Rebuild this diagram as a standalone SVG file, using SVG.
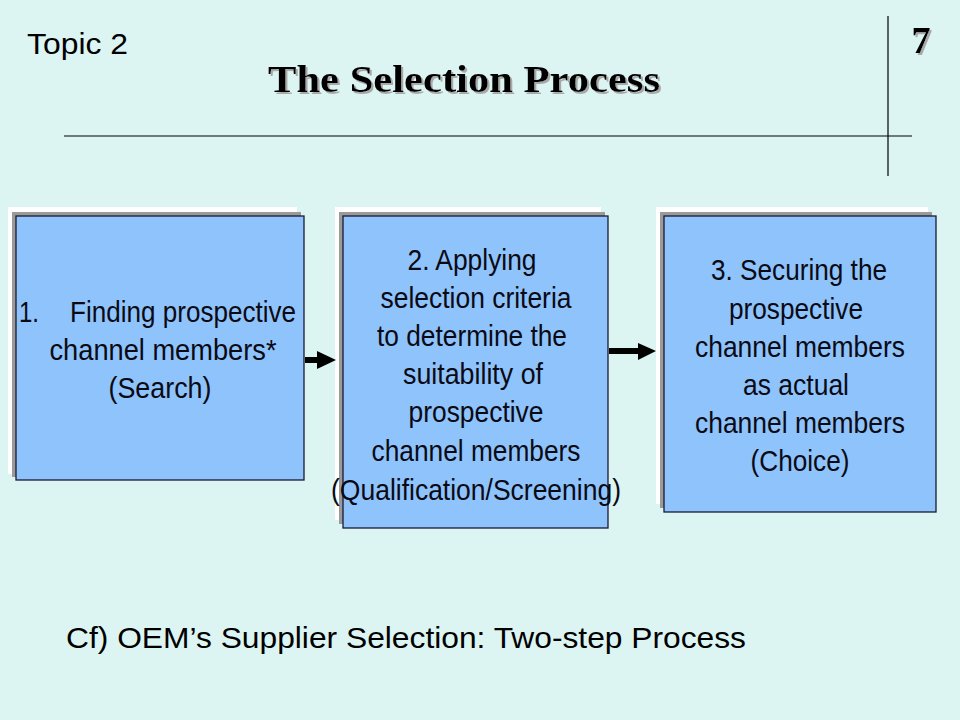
<svg xmlns="http://www.w3.org/2000/svg" width="960" height="720" viewBox="0 0 960 720">
  <defs>
    <style>
      .bg { fill: #dcf5f2; }
      .rule { stroke: #000; stroke-width: 1.2; fill: none; }
      .hl { fill: #ffffff; }
      .sh { fill: #9a9a9a; }
      .box { fill: #8fc3fb; stroke: #1a1a33; stroke-width: 1.3; }
      .t { font-family: "Liberation Sans", Arial, sans-serif; font-size: 29px; fill: #0a0a14; text-anchor: middle; }
      .title { font-family: "Liberation Serif", "Times New Roman", serif; font-weight: bold; font-size: 38px; text-anchor: middle; fill: #000; }
      .plain { font-family: "Liberation Sans", Arial, sans-serif; fill: #000; }
      .conn { stroke: #000; stroke-width: 6; fill: none; }
      .head { fill: #000; }
    </style>
    <filter id="shadow" x="-5%" y="-20%" width="110%" height="140%">
      <feDropShadow dx="2" dy="2" stdDeviation="0.3" flood-color="#a8a8a8" flood-opacity="1"/>
    </filter>
  </defs>
  <rect class="bg" x="0" y="0" width="960" height="720"/>

  <g id="header">
    <text class="plain" x="27" y="54" font-size="30" textLength="101" lengthAdjust="spacingAndGlyphs">Topic 2</text>
    <text class="title" x="464" y="92" filter="url(#shadow)" textLength="392" lengthAdjust="spacingAndGlyphs">The Selection Process</text>
    <text class="title" x="921" y="53" font-size="30" filter="url(#shadow)">7</text>
    <line class="rule" x1="64" y1="136" x2="912" y2="136"/>
    <line class="rule" x1="888" y1="16" x2="888" y2="176"/>
  </g>

  <g id="node1">
    <rect class="hl" x="8" y="207" width="289" height="267"/>
    <rect class="sh" x="12" y="212" width="289" height="265"/>
    <rect class="box" x="16" y="216" width="288" height="264"/>
    <text class="t" x="19" y="322" style="text-anchor:start" textLength="20" lengthAdjust="spacingAndGlyphs">1.</text>
    <text class="t" x="183" y="322" textLength="226" lengthAdjust="spacingAndGlyphs">Finding prospective</text>
    <text class="t" x="163" y="360" textLength="227" lengthAdjust="spacingAndGlyphs">channel members*</text>
    <text class="t" x="160" y="398" textLength="103" lengthAdjust="spacingAndGlyphs">(Search)</text>
  </g>

  <g id="node2">
    <rect class="hl" x="335" y="207" width="266" height="313"/>
    <rect class="sh" x="339" y="212" width="266" height="312"/>
    <rect class="box" x="343" y="216" width="265" height="312"/>
    <text class="t" x="472" y="270" textLength="129" lengthAdjust="spacingAndGlyphs">2. Applying</text>
    <text class="t" x="476" y="308" textLength="191" lengthAdjust="spacingAndGlyphs">selection criteria</text>
    <text class="t" x="472" y="346" textLength="190" lengthAdjust="spacingAndGlyphs">to determine the</text>
    <text class="t" x="473" y="384" textLength="140" lengthAdjust="spacingAndGlyphs">suitability of</text>
    <text class="t" x="476" y="422" textLength="135" lengthAdjust="spacingAndGlyphs">prospective</text>
    <text class="t" x="476" y="461" textLength="209" lengthAdjust="spacingAndGlyphs">channel members</text>
    <text class="t" x="476" y="500" textLength="290" lengthAdjust="spacingAndGlyphs">(Qualification/Screening)</text>
  </g>

  <g id="node3">
    <rect class="hl" x="656" y="207" width="272" height="297"/>
    <rect class="sh" x="660" y="212" width="272" height="296"/>
    <rect class="box" x="664" y="216" width="272" height="296"/>
    <text class="t" x="799" y="280" textLength="176" lengthAdjust="spacingAndGlyphs">3. Securing the</text>
    <text class="t" x="796" y="319" textLength="134" lengthAdjust="spacingAndGlyphs">prospective</text>
    <text class="t" x="800" y="357" textLength="210" lengthAdjust="spacingAndGlyphs">channel members</text>
    <text class="t" x="796" y="395" textLength="106" lengthAdjust="spacingAndGlyphs">as actual</text>
    <text class="t" x="800" y="433" textLength="210" lengthAdjust="spacingAndGlyphs">channel members</text>
    <text class="t" x="800" y="471" textLength="99" lengthAdjust="spacingAndGlyphs">(Choice)</text>
  </g>

  <g id="connectors">
    <line class="conn" x1="305" y1="360" x2="319" y2="360"/>
    <polygon class="head" points="317,351 336,360 317,369"/>
    <line class="conn" x1="609" y1="351" x2="640" y2="351"/>
    <polygon class="head" points="638,343 656,351 638,360"/>
  </g>

  <g id="footer">
    <text class="plain" x="66" y="648" font-size="30" textLength="680" lengthAdjust="spacingAndGlyphs">Cf) OEM’s Supplier Selection: Two-step Process</text>
  </g>
</svg>
